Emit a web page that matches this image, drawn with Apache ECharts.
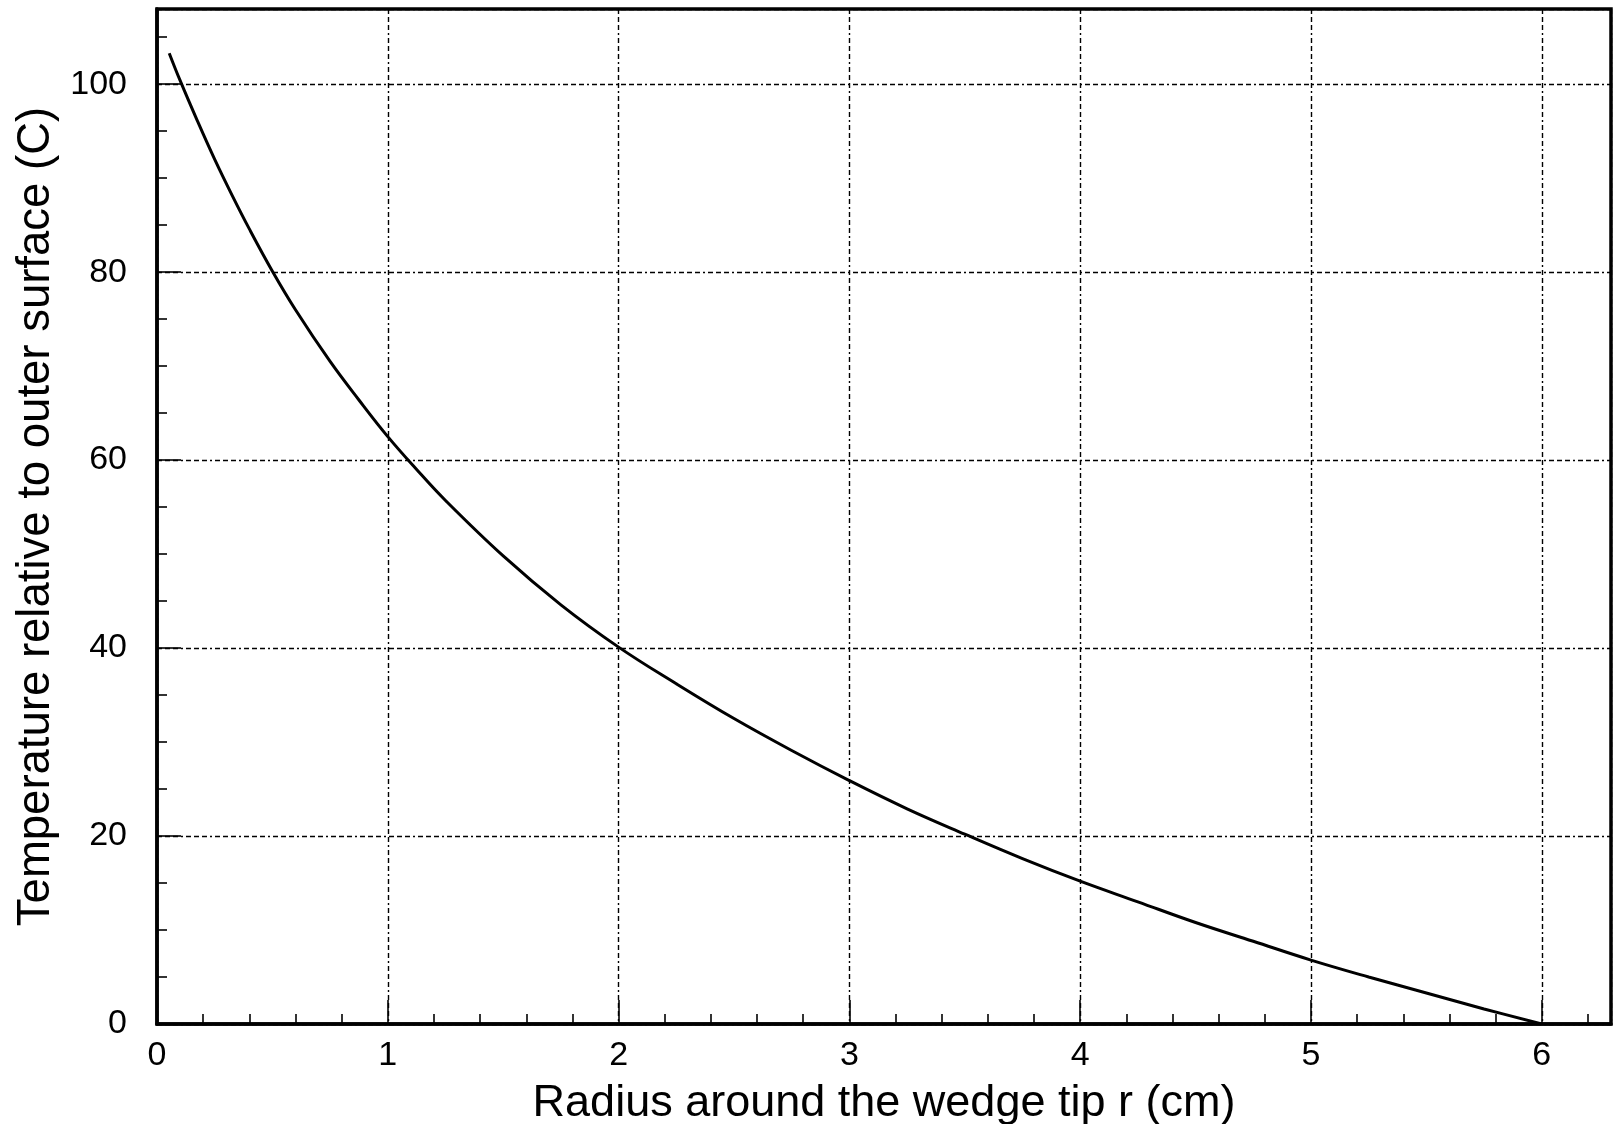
<!DOCTYPE html>
<html>
<head>
<meta charset="utf-8">
<script src="https://cdn.jsdelivr.net/npm/echarts@6/dist/echarts.min.js"></script>
<style>
html,body{margin:0;padding:0;background:#fff;}
#chart{width:1624px;height:1124px;}
</style>
</head>
<body>
<div id="chart"></div>
<script>
// Radius around the wedge tip r (cm)
const radius = [0.053, 0.1, 0.175, 0.25, 0.325, 0.4, 0.5, 0.6, 0.75, 0.875, 1.0, 1.125, 1.25, 1.5, 1.75, 2.0, 2.25, 2.5, 2.75, 3.0, 3.25, 3.5, 3.75, 4.0, 4.25, 4.5, 4.75, 5.0, 5.25, 5.5, 5.75, 6.0];
// Temperature relative to outer surface (C)
const temperature = [103.3, 100.4, 96.1, 92.0, 88.2, 84.6, 80.1, 76.0, 70.5, 66.4, 62.5, 59.0, 55.7, 49.8, 44.6, 40.1, 36.2, 32.5, 29.1, 25.9, 22.9, 20.2, 17.6, 15.2, 13.0, 10.8, 8.8, 6.8, 5.0, 3.3, 1.6, 0.0];
const xTitle = 'Radius around the wedge tip r (cm)';
const yTitle = 'Temperature relative to outer surface (C)';

const FONT = "'Liberation Sans', Arial, sans-serif";
const gridDash = [5, 3, 5, 3, 5, 3, 2, 3];
const chart = echarts.init(document.getElementById('chart'), null, {renderer: 'canvas'});
const points = radius.map((r, i) => [r, temperature[i]]);

chart.setOption({
  animation: false,
  backgroundColor: '#ffffff',
  grid: {
    left: 157, right: 13, top: 9, bottom: 100,
    containLabel: false, outerBoundsMode: 'none',
    show: true, borderColor: '#000', borderWidth: 3.5, backgroundColor: 'transparent'
  },
  xAxis: {
    type: 'value', min: 0, max: 6.3, interval: 1,
    name: xTitle, nameLocation: 'middle', nameGap: 57,
    nameTextStyle: {fontFamily: FONT, fontSize: 45, color: '#000'},
    axisLine: {show: true, lineStyle: {color: '#000', width: 3.5}},
    axisTick: {show: true, inside: true, length: 24, lineStyle: {color: '#000', width: 1.6}},
    minorTick: {show: true, splitNumber: 5, length: 10, lineStyle: {color: '#000', width: 1.6}},
    axisLabel: {
      fontFamily: FONT, fontSize: 34, color: '#000', margin: 15,
      formatter: v => (Math.abs(v - Math.round(v)) < 1e-9 ? String(Math.round(v)) : '')
    },
    splitLine: {show: true, lineStyle: {color: '#000', width: 1.4, type: gridDash}}
  },
  yAxis: {
    type: 'value', min: 0, max: 108, interval: 20,
    name: yTitle, nameLocation: 'middle', nameGap: 88,
    nameTextStyle: {fontFamily: FONT, fontSize: 45.5, color: '#000'},
    axisLine: {show: true, lineStyle: {color: '#000', width: 3.5}},
    axisTick: {show: true, inside: true, length: 24, lineStyle: {color: '#000', width: 1.6}},
    minorTick: {show: true, splitNumber: 4, length: 10, lineStyle: {color: '#000', width: 1.6}},
    axisLabel: {
      fontFamily: FONT, fontSize: 34, color: '#000', margin: 30,
      formatter: v => (v % 20 === 0 ? String(v) : '')
    },
    splitLine: {show: true, lineStyle: {color: '#000', width: 1.4, type: gridDash}}
  },
  series: [{
    type: 'line',
    data: points,
    smooth: 0.4,
    showSymbol: false,
    symbol: 'none',
    lineStyle: {color: '#000', width: 3},
    z: 5
  }]
});
</script>
</body>
</html>
